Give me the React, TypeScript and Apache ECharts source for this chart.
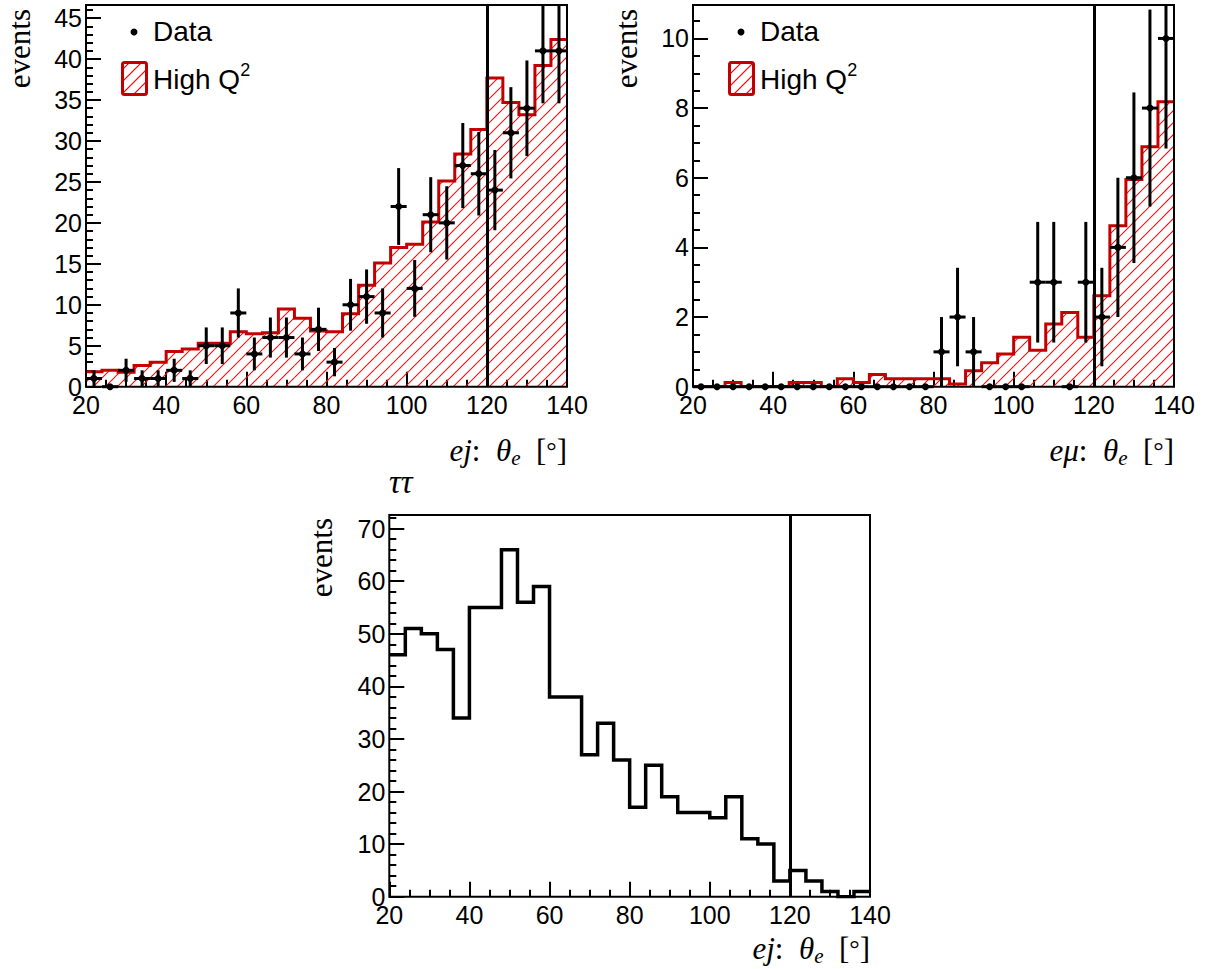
import React, { useEffect, useRef } from 'react';
import * as echarts from 'echarts';

// ---- data ----
const binEdges = [20, 24, 28, 32, 36, 40, 44, 48, 52, 56, 60, 64, 68, 72, 76, 80, 84, 88, 92, 96, 100, 104, 108, 112, 116, 120, 124, 128, 132, 136, 140];

const ejHighQ2 = [1.83, 2.0, 1.75, 2.6, 3.0, 4.3, 4.6, 5.3, 5.3, 6.7, 6.45, 6.6, 9.5, 8.35, 6.8, 6.7, 8.9, 12.4, 15.1, 17.0, 17.4, 20.1, 25.1, 28.4, 31.4, 37.7, 34.7, 33.2, 39.2, 42.4];
const ejData = [1, 0, 2, 1, 1, 2, 1, 5, 5, 9, 4, 6, 6, 4, 7, 3, 10, 11, 9, 22, 12, 21, 20, 27, 26, 24, 31, 34, 41, 41];

const emuHighQ2 = [0, 0, 0.12, 0, 0, 0, 0.12, 0.12, 0, 0.23, 0.12, 0.35, 0.23, 0.23, 0.23, 0.23, 0.08, 0.46, 0.69, 0.94, 1.42, 1.05, 1.8, 2.13, 1.42, 2.61, 4.62, 5.95, 6.89, 8.18];
const emuData = [0, 0, 0, 0, 0, 0, 0, 0, 0, 0, 0, 0, 0, 0, 0, 1, 2, 1, 0, 0, 0, 3, 3, 0, 3, 2, 4, 6, 8, 10];

const tautauHist = [46, 51, 50, 47, 34, 55, 55, 66, 56, 59, 38, 38, 27, 33, 26, 17, 25, 19, 16, 16, 15, 19, 11, 10, 3, 5, 3, 1, 0, 1];

const cutValue = 120;
const xTickLabels = [20, 40, 60, 80, 100, 120, 140];

const RED = '#c20000';
const HATCH_RED = 'rgb(235, 20, 20)';
const SANS = 'Liberation Sans';
const SERIF = 'Liberation Serif';
const HATCH_STEP = 12;

function hatchSegments(x0: number, yTop: number, x1: number, yBot: number, step: number) {
  const segs: number[][] = [];
  if (x1 <= x0 || yBot <= yTop) return segs;
  const cStart = Math.ceil((x0 + yTop) / step) * step;
  for (let c = cStart; c <= x1 + yBot; c += step) {
    const xa = Math.max(x0, c - yBot);
    const xb = Math.min(x1, c - yTop);
    if (xb > xa) segs.push([xa, c - xa, xb, c - xb]);
  }
  return segs;
}

function binTriples(vals: number[]) {
  return vals.map((v, i) => [binEdges[i], binEdges[i + 1], v]);
}
function stepPoints(vals: number[]) {
  const pts: number[][] = [];
  vals.forEach((v, i) => {
    pts.push([binEdges[i], v]);
    pts.push([binEdges[i + 1], v]);
  });
  return pts;
}

const panels = [
  { grid: { left: 86, top: 5, width: 481, height: 381.7 }, yMax: 46.6, yMajor: 5, yMinor: 1 },
  { grid: { left: 693, top: 5, width: 481, height: 381.7 }, yMax: 10.96, yMajor: 2, yMinor: 0.5 },
  { grid: { left: 389.3, top: 515, width: 480.7, height: 381.7 }, yMax: 72.6, yMajor: 10, yMinor: 2 },
];

function hatchElement(s: number[]) {
  return {
    type: 'polyline',
    shape: { points: [[s[0], s[1]], [s[2], s[3]]] },
    style: { stroke: HATCH_RED, fill: 'none', lineWidth: 1.1 },
  };
}

function hatchSeries(idx: number, vals: number[]) {
  return {
    type: 'custom',
    xAxisIndex: idx * 2,
    yAxisIndex: idx * 2,
    clip: true,
    z: 1,
    silent: true,
    itemStyle: { color: HATCH_RED, borderColor: HATCH_RED },
    data: binTriples(vals),
    renderItem: (params: any, api: any) => {
      const p0 = api.coord([api.value(0), 0]);
      const p1 = api.coord([api.value(1), api.value(2)]);
      const segs = hatchSegments(p0[0], p1[1], p1[0], p0[1], HATCH_STEP);
      return {
        type: 'group',
        children: segs.map(hatchElement),
      };
    },
  };
}

function outlineSeries(idx: number, vals: number[], color: string, width: number) {
  return {
    type: 'line',
    xAxisIndex: idx * 2,
    yAxisIndex: idx * 2,
    z: 2,
    silent: true,
    showSymbol: false,
    symbol: 'none',
    data: stepPoints(vals),
    lineStyle: { color, width, join: 'miter' },
    markLine: {
      silent: true,
      symbol: 'none',
      label: { show: false },
      lineStyle: { color: '#000', width: 3, type: 'solid' },
      data: [{ xAxis: cutValue }],
      z: 3,
    },
  };
}

function dataSeries(idx: number, counts: number[]) {
  return {
    type: 'custom',
    xAxisIndex: idx * 2,
    yAxisIndex: idx * 2,
    clip: false,
    z: 11,
    silent: true,
    data: binTriples(counts),
    renderItem: (params: any, api: any) => {
      const lo = api.value(0);
      const hi = api.value(1);
      const n = api.value(2);
      const c = (lo + hi) / 2;
      const e = Math.sqrt(n);
      const top = params.coordSys.y;
      const pc = api.coord([c, n]);
      const pt = api.coord([c, n + e]);
      const pb = api.coord([c, n - e]);
      const pl = api.coord([lo, n]);
      const pr = api.coord([hi, n]);
      const children: any[] = [
        { type: 'line', shape: { x1: pl[0], y1: pl[1], x2: pr[0], y2: pr[1] }, style: { stroke: '#000', lineWidth: 3 } },
        { type: 'circle', shape: { cx: pc[0], cy: pc[1], r: 3.5 }, style: { fill: '#000' } },
      ];
      if (e > 0) {
        children.push({ type: 'line', shape: { x1: pt[0], y1: Math.max(pt[1], top), x2: pb[0], y2: pb[1] }, style: { stroke: '#000', lineWidth: 3 } });
      }
      return { type: 'group', children };
    },
  };
}

function legendGraphics(dx: number) {
  const bx0 = 122.5 + dx, by0 = 62.5, bw = 24, bh = 32;
  const segs = hatchSegments(bx0, by0, bx0 + bw, by0 + bh, HATCH_STEP);
  return [
    { type: 'circle', shape: { cx: 134 + dx, cy: 32, r: 3.5 }, style: { fill: '#000' } },
    { type: 'text', x: 153 + dx, y: 31, style: { text: 'Data', fill: '#000', fontFamily: SANS, fontSize: 28, align: 'left', verticalAlign: 'middle' } },
    ...segs.map(hatchElement),
    { type: 'rect', shape: { x: bx0, y: by0, width: bw, height: bh, r: 2 }, style: { fill: 'none', stroke: RED, lineWidth: 3 } },
    {
      type: 'text', x: 153 + dx, y: 79,
      style: {
        text: '{a|High Q}{s|2}',
        align: 'left', verticalAlign: 'middle',
        rich: {
          a: { fontFamily: SANS, fontSize: 28, fill: '#000', lineHeight: 36, verticalAlign: 'middle' },
          s: { fontFamily: SANS, fontSize: 18, fill: '#000', lineHeight: 18, verticalAlign: 'top' },
        },
      },
    },
  ];
}

function xTitle(x: number, y: number, lepton: string) {
  return {
    type: 'text', x, y,
    style: {
      text: `{i|${lepton}}{n|:  }{i|θ}{s|e}{n|  [}{o|°}{n|]}`,
      align: 'right', verticalAlign: 'middle',
      rich: {
        i: { fontFamily: SERIF, fontStyle: 'italic', fontSize: 31, fill: '#000', lineHeight: 36, verticalAlign: 'middle' },
        n: { fontFamily: SERIF, fontSize: 31, fill: '#000', lineHeight: 36, verticalAlign: 'middle' },
        s: { fontFamily: SERIF, fontStyle: 'italic', fontSize: 21, fill: '#000', lineHeight: 21, verticalAlign: 'bottom' },
        o: { fontFamily: SERIF, fontSize: 26, fill: '#000', lineHeight: 36, verticalAlign: 'middle' },
      },
    },
  };
}

function eventsLabel(x: number, y: number) {
  return {
    type: 'text', x, y, rotation: Math.PI / 2,
    style: { text: 'events', fill: '#000', fontFamily: SERIF, fontSize: 31, align: 'right', verticalAlign: 'middle' },
  };
}

function buildOption() {
  const grid = panels.map((p) => ({
    ...p.grid,
    show: true,
    borderColor: '#000',
    borderWidth: 2,
    backgroundColor: 'transparent',
    z: 10,
  }));
  const xAxis: any[] = [];
  const yAxis: any[] = [];
  panels.forEach((p, g) => {
    xAxis.push({
      type: 'value', gridIndex: g, position: 'bottom', min: xTickLabels[0], max: xTickLabels[xTickLabels.length - 1], interval: 20,
      axisLine: { show: false }, splitLine: { show: false },
      axisTick: { show: true, inside: true, length: 15, lineStyle: { color: '#000', width: 2 } },
      axisLabel: { show: true, margin: 6, color: '#000', fontFamily: SANS, fontSize: 25 },
    });
    xAxis.push({
      type: 'value', gridIndex: g, position: 'bottom', min: xTickLabels[0], max: xTickLabels[xTickLabels.length - 1], interval: 5,
      axisLine: { show: false }, splitLine: { show: false },
      axisTick: { show: true, inside: true, length: 7, lineStyle: { color: '#000', width: 2 } },
      axisLabel: { show: false },
    });
    yAxis.push({
      type: 'value', gridIndex: g, position: 'left', min: 0, max: p.yMax, interval: p.yMajor,
      axisLine: { show: false }, splitLine: { show: false },
      axisTick: { show: true, inside: true, length: 15, lineStyle: { color: '#000', width: 2 } },
      axisLabel: {
        show: true, margin: 4, color: '#000', fontFamily: SANS, fontSize: 25,
        formatter: (v: number) => (Math.abs(v / p.yMajor - Math.round(v / p.yMajor)) < 1e-6 ? String(Math.round(v)) : ''),
      },
    });
    yAxis.push({
      type: 'value', gridIndex: g, position: 'left', min: 0, max: p.yMax, interval: p.yMinor,
      axisLine: { show: false }, splitLine: { show: false },
      axisTick: { show: true, inside: true, length: 7, lineStyle: { color: '#000', width: 2 } },
      axisLabel: { show: false },
    });
  });

  const series = [
    hatchSeries(0, ejHighQ2),
    outlineSeries(0, ejHighQ2, RED, 3),
    dataSeries(0, ejData),
    hatchSeries(1, emuHighQ2),
    outlineSeries(1, emuHighQ2, RED, 3),
    dataSeries(1, emuData),
    outlineSeries(2, tautauHist, '#000', 3.5),
  ];

  const graphic = [
    eventsLabel(19, 9),
    eventsLabel(626, 9),
    eventsLabel(321, 518),
    xTitle(567, 450, 'ej'),
    xTitle(1174, 450, 'eμ'),
    xTitle(870, 948, 'ej'),
    { type: 'text', x: 389, y: 482, style: { text: 'ττ', fill: '#000', fontFamily: SERIF, fontStyle: 'italic', fontSize: 33, align: 'left', verticalAlign: 'middle' } },
    ...legendGraphics(0),
    ...legendGraphics(607),
  ];

  return { animation: false, grid, xAxis, yAxis, series, graphic };
}

export default function App() {
  const ref = useRef<HTMLDivElement>(null);
  useEffect(() => {
    if (!ref.current) return;
    const chart = echarts.init(ref.current, null, { renderer: 'svg' });
    chart.setOption(buildOption() as any);
    return () => chart.dispose();
  }, []);
  return (
    <div
      ref={ref}
      style={{ position: 'absolute', left: 0, top: 0, width: 1205, height: 969, background: '#fff' }}
    />
  );
}
